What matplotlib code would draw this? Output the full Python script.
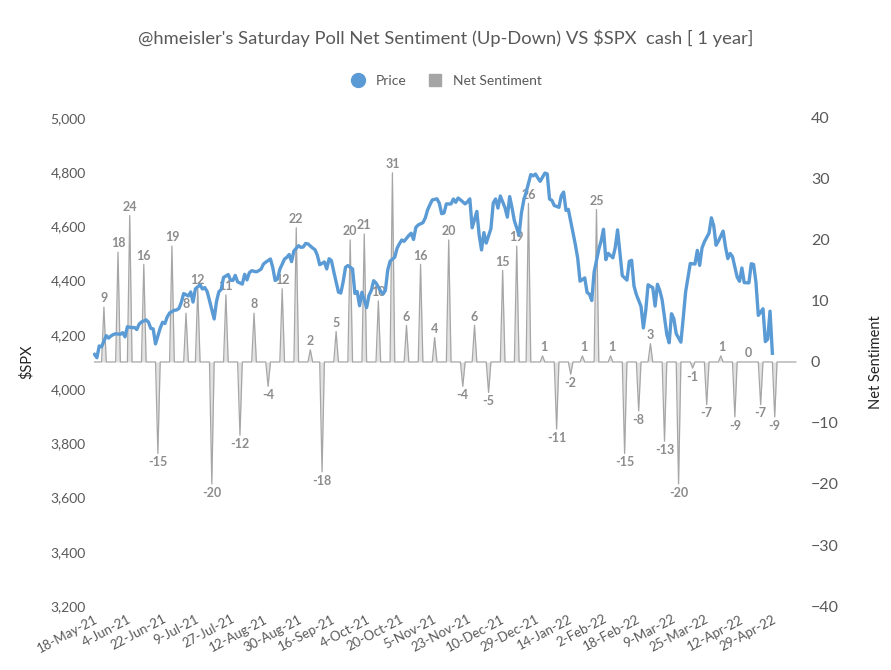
import numpy as np
import pandas as pd
import matplotlib
matplotlib.use("Agg")
import matplotlib.pyplot as plt
from matplotlib.lines import Line2D

plt.rcParams['font.family'] = ['Lato', 'DejaVu Sans']

# $SPX daily closes, 18-May-21 .. 29-Apr-22 (trading days)
price = [
    # May-21 (from 18th)
    4127.8, 4115.7, 4159.1, 4155.9, 4197.1, 4188.1, 4196.0, 4200.9, 4204.1,
    # Jun-21
    4202.0, 4208.1, 4192.9, 4229.9, 4226.5, 4227.3, 4219.6, 4239.2, 4247.4, 4255.2,
    4246.6, 4223.7, 4221.9, 4166.5, 4224.8, 4246.4, 4241.8, 4266.5, 4280.7, 4290.6,
    4291.8, 4297.5,
    # Jul-21
    4319.9, 4352.3, 4343.5, 4358.1, 4320.8, 4369.6, 4384.6, 4369.2, 4374.3, 4360.0,
    4327.2, 4258.5, 4323.1, 4358.7, 4367.5, 4411.8, 4422.3, 4401.5, 4400.6, 4419.2,
    4395.3,
    # Aug-21
    4387.2, 4423.2, 4402.7, 4429.1, 4436.5, 4432.4, 4436.8, 4442.4, 4460.8, 4468.0,
    4479.7, 4448.1, 4400.3, 4405.8, 4441.7, 4479.5, 4486.2, 4496.2, 4470.0, 4509.4,
    4528.8, 4522.7,
    # Sep-21
    4524.1, 4537.0, 4535.4, 4520.0, 4514.1, 4493.3, 4458.6, 4468.7, 4443.1, 4480.7,
    4473.8, 4433.0, 4357.7, 4354.2, 4395.6, 4449.0, 4455.5, 4443.1, 4352.6, 4359.5,
    4307.5,
    # Oct-21
    4357.0, 4300.5, 4345.7, 4363.6, 4399.8, 4391.3, 4361.2, 4350.7, 4363.8, 4438.3,
    4471.4, 4486.5, 4519.6, 4536.2, 4549.8, 4544.9, 4566.5, 4574.8, 4551.7, 4596.4,
    4605.4,
    # Nov-21
    4613.7, 4630.7, 4660.6, 4680.1, 4697.5, 4701.7, 4685.3, 4646.7, 4649.3, 4682.9,
    4682.8, 4700.9, 4688.7, 4704.5, 4698.0, 4682.9, 4690.7, 4701.5, 4594.6, 4655.3,
    4567.0,
    # Dec-21
    4513.0, 4577.1, 4538.4, 4591.7, 4686.8, 4701.2, 4667.5, 4712.0, 4669.0, 4634.1,
    4709.9, 4668.7, 4620.6, 4568.0, 4649.2, 4696.6, 4725.8, 4791.2, 4786.4, 4793.1,
    4778.7, 4766.2,
    # Jan-22
    4796.6, 4793.5, 4700.6, 4696.1, 4677.0, 4670.3, 4713.1, 4726.4, 4659.0, 4662.9,
    4577.1, 4532.8, 4482.7, 4397.9, 4410.1, 4356.5, 4349.9, 4326.5, 4431.9, 4515.6,
    # Feb-22
    4546.5, 4589.4, 4477.4, 4500.5, 4483.9, 4521.5, 4587.2, 4504.1, 4418.6, 4401.7,
    4471.1, 4475.0, 4380.3, 4348.9, 4304.8, 4225.5, 4288.7, 4384.7, 4373.9,
    # Mar-22
    4306.3, 4386.5, 4363.5, 4328.9, 4201.1, 4170.7, 4277.9, 4259.5, 4204.3, 4173.1,
    4262.5, 4357.9, 4411.7, 4463.1, 4461.2, 4511.6, 4456.2, 4520.2, 4543.1, 4575.5,
    4631.6, 4602.5, 4530.4,
    # Apr-22
    4545.9, 4582.6, 4525.1, 4481.2, 4500.2, 4488.3, 4412.5, 4397.5, 4446.6, 4392.6,
    4391.7, 4462.2, 4459.5, 4393.7, 4271.8, 4296.1, 4175.2, 4184.0, 4287.5, 4131.9,
]

# Saturday poll net sentiment (Up - Down), weekly from 22-May-21
sentiment = [9, 18, 24, 16, -15, 19, 8, 12, -20, 11, -12, 8, -4, 12, 22, 2, -18,
             5, 20, 21, 10, 31, 6, 16, 4, 20, -4, 6, -5, 15, 19, 26, 1, -11, -2,
             1, 25, 1, -15, -8, 3, -13, -20, -1, -7, 1, -9, 0, -7, -9]

holidays = ['2021-05-31', '2021-07-05', '2021-09-06', '2021-11-25', '2021-12-24',
            '2022-01-17', '2022-02-21', '2022-04-15']

tick_labels = ['18-May-21', '4-Jun-21', '22-Jun-21', '9-Jul-21', '27-Jul-21',
               '12-Aug-21', '30-Aug-21', '16-Sep-21', '4-Oct-21', '20-Oct-21',
               '5-Nov-21', '23-Nov-21', '10-Dec-21', '29-Dec-21', '14-Jan-22',
               '2-Feb-22', '18-Feb-22', '9-Mar-22', '25-Mar-22', '12-Apr-22',
               '29-Apr-22']

# category rows: trading days + Saturdays (sheet runs a bit past the data)
days = pd.date_range('2021-05-18', '2022-05-11')
days = days[(days.dayofweek != 6) & ~days.isin(pd.to_datetime(holidays))]
trade_days = pd.bdate_range('2021-05-18', '2022-04-29')
trade_days = trade_days[~trade_days.isin(pd.to_datetime(holidays))]
poll_days = pd.date_range('2021-05-22', periods=len(sentiment), freq='7D')

pos = {d: i for i, d in enumerate(days)}
x_price = np.array([pos[d] for d in trade_days])
sent = np.zeros(len(days))
for d, v in zip(poll_days, sentiment):
    sent[pos[d]] = v
x_all = np.arange(len(days))

fig = plt.figure(figsize=(8.91, 6.70), dpi=100)
ax = fig.add_axes([0.104, 0.0955, 0.7905, 0.7285])
ax2 = ax.twinx()

gray_txt = '#595959'
ax2.fill_between(x_all, 0, sent, color='#e2e2e2', lw=0)
ax2.plot(x_all, sent, color='#a6a6a6', lw=0.9)
for d, v in zip(poll_days, sentiment):
    i = pos[d]
    if v >= 0:
        ax2.annotate(str(v), (i, v), xytext=(1 if v <= 1 else 0, 2), textcoords='offset points',
                     ha='center', va='bottom', fontsize=9, fontweight='bold', color='#8c8c8c')
    else:
        ax2.annotate(str(v), (i, v), xytext=(0, -2), textcoords='offset points',
                     ha='center', va='top', fontsize=9, fontweight='bold', color='#8c8c8c')

ax.plot(x_price, price, color='#5b9bd5', lw=2.4, solid_joinstyle='round')
ax.set_zorder(ax2.get_zorder() + 1)
ax.patch.set_visible(False)

ax.set_xlim(-0.8, len(days) - 0.5)
ax.set_ylim(3200, 5000)
ax.set_yticks(np.arange(3200, 5001, 200))
ax.set_yticklabels([f'{v:,}' for v in range(3200, 5001, 200)])
ax2.set_ylim(-40, 40)
ax2.set_yticks(np.arange(-40, 41, 10))

tick_pos = [pos[pd.to_datetime(t, format='%d-%b-%y')] for t in tick_labels]
ax.set_xticks(tick_pos)
ax.set_xticklabels(tick_labels, rotation=28, ha='right', rotation_mode='anchor')

for a in (ax, ax2):
    for s in a.spines.values():
        s.set_visible(False)
    a.tick_params(length=0, colors=gray_txt, labelsize=10)
ax.tick_params(axis='y', pad=5)
ax.tick_params(axis='x', pad=5, labelsize=9.5)
ax2.tick_params(axis='y', pad=10, labelsize=11.5)

ax.set_ylabel('$SPX', color='#222222', fontsize=10.5, labelpad=12)
ax2.set_ylabel('Net Sentiment', color='#222222', fontsize=10.5, labelpad=22)

fig.text(0.5, 0.943, "@hmeisler's Saturday Poll Net Sentiment (Up-Down) VS \\$SPX  cash [ 1 year]",
         ha='center', va='center', fontsize=13.2, color=gray_txt)

handles = [Line2D([], [], marker='o', ls='none', ms=10, color='#5b9bd5'),
           Line2D([], [], marker='s', ls='none', ms=9, color='#a5a5a5')]
fig.legend(handles, ['Price', 'Net Sentiment'], loc='center', bbox_to_anchor=(0.497, 0.879),
           ncol=2, frameon=False, fontsize=10, labelcolor=gray_txt, handletextpad=0.3,
           columnspacing=1.0)

fig.savefig('out.png', dpi=100)
